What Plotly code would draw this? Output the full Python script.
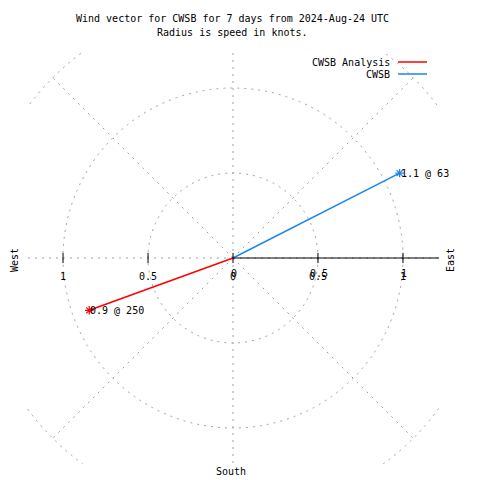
import numpy as np
import plotly.graph_objects as go

# ---- data ----
series_names = ["CWSB Analysis", "CWSB"]
speeds = [0.9, 1.1]          # knots
directions = [250, 63]       # degrees, compass
series_colors = ["#ff0000", "#1c86ee"]

title_lines = ["Wind vector for CWSB for 7 days from 2024-Aug-24 UTC",
               "Radius is speed in knots."]
grid_radii = [0.5, 1.0, 1.5]
grid_angles = [0, 45, 90, 135, 180, 225, 270, 315]
x_tick_vals = [-1, -0.5, 0, 0.5, 1]
x_tick_text = ["1", "0.5", "0", "0.5", "1"]
r_tick_vals = [0, 0.5, 1]
r_tick_text = ["0", "0.5", "1"]

FONT = "DejaVu Sans Mono"
GRID = "#a0a0a0"
W = H = 480
L, R, T, B = 27, 41, 52, 16
RNG = 1.212

def px(x, y):
    return (x - L) / (W - L - R), (H - B - y) / (H - T - B)

fig = go.Figure()
shapes = []
annotations = []

# grid circles
for r in grid_radii:
    shapes.append(dict(type="circle", xref="x", yref="y", x0=-r, x1=r, y0=-r, y1=r,
                       line=dict(color=GRID, width=1, dash="2px,5px"), layer="below"))
# radial grid lines
for a in grid_angles:
    t = np.deg2rad(a)
    shapes.append(dict(type="line", xref="x", yref="y", x0=0, y0=0,
                       x1=1.5 * np.sin(t), y1=1.5 * np.cos(t),
                       line=dict(color=GRID, width=1, dash="2px,5px"), layer="below"))
# r axis (solid)
shapes.append(dict(type="line", xref="x", yref="y", x0=0, y0=0, x1=RNG, y1=0,
                   line=dict(color="black", width=1.2)))
# ticks
for v in x_tick_vals:
    shapes.append(dict(type="line", xref="x", yref="y", x0=v, x1=v, y0=-0.03, y1=0.03,
                       line=dict(color="black", width=1)))

# vectors
for name, s, d, c in zip(series_names, speeds, directions, series_colors):
    t = np.deg2rad(d)
    x = s * np.sin(t)
    y = s * np.cos(t)
    fig.add_trace(go.Scatter(x=[0, x], y=[0, y], mode="lines", name=name,
                             line=dict(color=c, width=1.5), showlegend=False,
                             hoverinfo="skip"))
    fig.add_trace(go.Scatter(x=[x], y=[y], mode="markers", name=name,
                             marker=dict(symbol="asterisk-open", size=7,
                                         line=dict(color=c, width=1.2), color=c),
                             showlegend=False, cliponaxis=False, hoverinfo="skip"))
    annotations.append(dict(x=x, y=y, xref="x", yref="y", text=f"{s:g} @ {d}",
                            showarrow=False, xanchor="left", yanchor="middle", xshift=-1,
                            font=dict(family=FONT, size=10, color="black")))

# x tick labels
for v, lab in zip(x_tick_vals, x_tick_text):
    annotations.append(dict(x=v, y=-0.11, xref="x", yref="y", text=lab, showarrow=False,
                            font=dict(family=FONT, size=10, color="black")))
# r tick labels (overlapping)
for v, lab in zip(r_tick_vals, r_tick_text):
    annotations.append(dict(x=v + 0.006, y=-0.093, xref="x", yref="y", text=lab, showarrow=False,
                            font=dict(family=FONT, size=10, color="black")))

# title
for i, line in enumerate(title_lines):
    xp, yp = px(232, 19 + 14 * i)
    annotations.append(dict(x=xp, y=yp, xref="paper", yref="paper", text=line,
                            showarrow=False, xanchor="center", yanchor="middle",
                            font=dict(family=FONT, size=10, color="black")))
# legend
for i, (name, c) in enumerate(zip(series_names, series_colors)):
    yy = 63 + 12 * i
    xp, yp = px(392, yy)
    annotations.append(dict(x=xp, y=yp, xref="paper", yref="paper", text=name,
                            showarrow=False, xanchor="right", yanchor="middle",
                            font=dict(family=FONT, size=10, color="black")))
    x0, y0 = px(398, yy - 1)
    x1, _ = px(427, yy - 1)
    shapes.append(dict(type="line", xref="paper", yref="paper", x0=x0, x1=x1, y0=y0, y1=y0,
                       line=dict(color=c, width=1.5)))

# compass labels
for txt, (cx, cy), ang in [("West", (14, 260), -90), ("East", (450, 260), -90),
                           ("South", (231, 471), 0)]:
    xp, yp = px(cx, cy)
    annotations.append(dict(x=xp, y=yp, xref="paper", yref="paper", text=txt,
                            showarrow=False, textangle=ang, xanchor="center", yanchor="middle",
                            font=dict(family=FONT, size=10, color="black")))

fig.update_layout(
    width=W, height=H, margin=dict(l=L, r=R, t=T, b=B),
    paper_bgcolor="white", plot_bgcolor="white",
    xaxis=dict(range=[-RNG, RNG], visible=False, fixedrange=True),
    yaxis=dict(range=[-RNG, RNG], visible=False, fixedrange=True),
    shapes=shapes, annotations=annotations, showlegend=False,
)
fig.write_html("out.html", config={"displayModeBar": False},
               post_script="document.body.style.margin='0';document.body.style.padding='0';")
